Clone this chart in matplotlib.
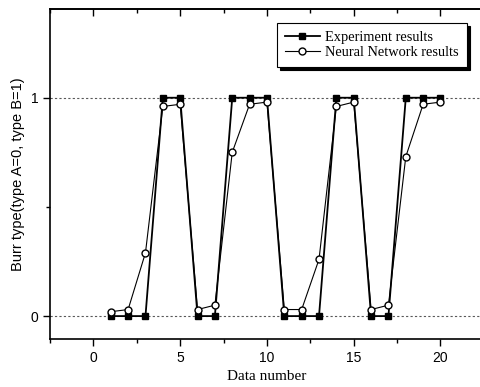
import numpy as np
import matplotlib.pyplot as plt
from matplotlib.ticker import MultipleLocator

# data
data_number = list(range(1, 21))
experiment = [0, 0, 0, 1, 1, 0, 0, 1, 1, 1, 0, 0, 0, 1, 1, 0, 0, 1, 1, 1]
neural_net = [0.02, 0.03, 0.29, 0.96, 0.97, 0.03, 0.05, 0.75, 0.97, 0.98,
              0.03, 0.03, 0.26, 0.96, 0.98, 0.03, 0.05, 0.73, 0.97, 0.98]

fig = plt.figure(figsize=(4.81, 3.87), dpi=100)
ax = fig.add_axes([0.104, 0.124, 0.902, 0.852])

# dotted reference lines at 0 and 1
for yv in (0, 1):
    ax.axhline(yv, color='0.35', ls=(0, (2, 2)), lw=0.8, zorder=0)

ax.plot(data_number, experiment, color='black', lw=1.3, marker='s', ms=4.8,
        mfc='black', mec='black', label='Experiment results')
ax.plot(data_number, neural_net, color='black', lw=0.8, marker='o', ms=5,
        mfc='white', mec='black', label='Neural Network results')

ax.set_xlim(-2.5, 22.5)
ax.set_ylim(-0.105, 1.405)
ax.xaxis.set_major_locator(MultipleLocator(5))
ax.xaxis.set_minor_locator(MultipleLocator(2.5))
ax.yaxis.set_major_locator(MultipleLocator(1))
ax.yaxis.set_minor_locator(MultipleLocator(0.5))
ax.tick_params(which='both', direction='out', top=False, right=False,
               labelsize=10, width=1)
ax.tick_params(which='major', length=5)
ax.tick_params(which='minor', length=3)

# inward ticks along the top
top = ax.secondary_xaxis('top')
top.xaxis.set_major_locator(MultipleLocator(5))
top.xaxis.set_minor_locator(MultipleLocator(2.5))
top.tick_params(which='both', direction='in', labeltop=False, width=1)
top.tick_params(which='major', length=5)
top.tick_params(which='minor', length=3)
top.spines['top'].set_linewidth(1.2)

for lab in ax.get_xticklabels() + ax.get_yticklabels():
    lab.set_family('Liberation Sans')
for sp in ax.spines.values():
    sp.set_linewidth(1.2)

ax.set_xlabel('Data number', family='Liberation Serif', fontsize=11)
ax.set_ylabel('Burr type(type A=0, type B=1)', family='Liberation Sans', fontsize=10.5)

leg = ax.legend(loc='upper right', bbox_to_anchor=(0.971, 0.941),
                bbox_transform=fig.transFigure, fancybox=False,
                shadow={'color': 'black', 'alpha': 1, 'ox': 2, 'oy': -2},
                edgecolor='black', framealpha=1, handlelength=2.4, handletextpad=0.4,
                prop={'family': 'Liberation Serif', 'size': 10.4},
                borderpad=0.55, labelspacing=0.15, borderaxespad=0)
leg.get_frame().set_linewidth(0.8)

fig.savefig('out.png', dpi=100)
